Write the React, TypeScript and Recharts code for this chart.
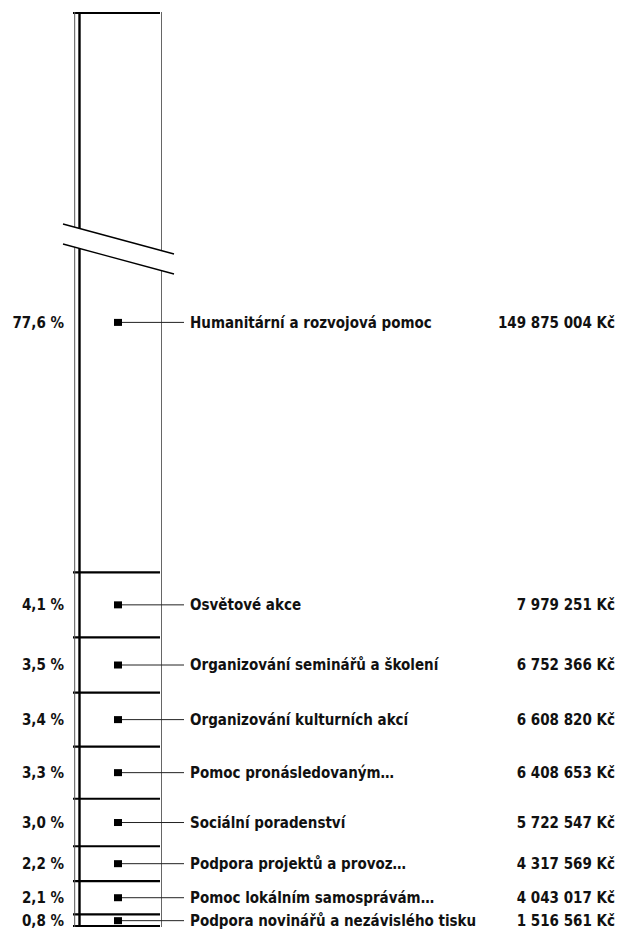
import React from 'react'
import { BarChart, Bar, XAxis, YAxis, LabelList } from 'recharts'

// segments listed bottom -> top (stack order)
const categories = [
  'Podpora novinářů a nezávislého tisku',
  'Pomoc lokálním samosprávám…',
  'Podpora projektů a provoz…',
  'Sociální poradenství',
  'Pomoc pronásledovaným…',
  'Organizování kulturních akcí',
  'Organizování seminářů a školení',
  'Osvětové akce',
  'Humanitární a rozvojová pomoc',
]
const percents = [0.8, 2.1, 2.2, 3.0, 3.3, 3.4, 3.5, 4.1, 77.6]
const amounts = [
  '1 516 561 Kč',
  '4 043 017 Kč',
  '4 317 569 Kč',
  '5 722 547 Kč',
  '6 408 653 Kč',
  '6 608 820 Kč',
  '6 752 366 Kč',
  '7 979 251 Kč',
  '149 875 004 Kč',
]

// visible part of the axis, the big segment is cut off (axis break)
const yDomainMax = 57.8

const W = 618
const H = 929
const TOP = 12
const BOTTOM = 927
const LAST = percents.length - 1

const FONT = '"DejaVu Sans Condensed", "DejaVu Sans", sans-serif'

const row: Record<string, number | string> = { name: 'all' }
percents.forEach((v, i) => { row['s' + i] = v })
const chartData = [row]

const fmtPct = (v: number) => v.toFixed(1).replace('.', ',') + ' %'

function makeShape(i: number) {
  return (props: any) => {
    const x = Number(props.x)
    const y = Number(props.y)
    const width = Number(props.width)
    const height = Number(props.height)
    if (i === LAST) {
      const top = props.background?.y ?? TOP
      const bottom = props.background ? props.background.y + props.background.height : BOTTOM
      const bx0 = x - 10
      const bx1 = x + 101
      const b1 = top + 212
      const b2 = top + 232
      return (
        <g>
          <line x1={x} x2={x + width} y1={top + 1} y2={top + 1} stroke="#000" strokeWidth={2} />
          {/* frame */}
          <line x1={x + 1.7} x2={x + 1.7} y1={top} y2={bottom + 2} stroke="#555" strokeWidth={1} />
          <line x1={x + 6.5} x2={x + 6.5} y1={top} y2={bottom + 2} stroke="#000" strokeWidth={2.4} />
          <line x1={x + 88.5} x2={x + 88.5} y1={top} y2={bottom + 2} stroke="#666" strokeWidth={1} />
          {/* axis break */}
          <polygon points={`${bx0},${b1} ${bx1},${b1 + 30} ${bx1},${b2 + 30} ${bx0},${b2}`} fill="#fff" />
          <line x1={bx0} y1={b1} x2={bx1} y2={b1 + 30} stroke="#000" strokeWidth={1.3} />
          <line x1={bx0} y1={b2} x2={bx1} y2={b2 + 30} stroke="#000" strokeWidth={1.3} />
        </g>
      )
    }
    return (
      <g>
        <line x1={x} x2={x + width} y1={y} y2={y} stroke="#000" strokeWidth={2.2} />
        {i === 0 && (
          <line x1={x} x2={x + width} y1={y + height - 1} y2={y + height - 1} stroke="#000" strokeWidth={2.2} />
        )}
      </g>
    )
  }
}

function makeLabel(i: number) {
  return (p: any) => {
    const vb = p.viewBox ?? p
    const bx = Number(vb.x)
    const by = Number(vb.y)
    const bh = Number(vb.height)
    const cy = i === LAST ? by + bh - 250 : by + bh / 2
    const txt = { fontFamily: FONT, fontWeight: 700, fontSize: 15, fill: '#111' }
    return (
      <g>
        <text x={64} y={cy} dy="0.36em" textAnchor="end" {...txt}>{fmtPct(percents[i])}</text>
        <rect x={bx + 41} y={cy - 3.5} width={8} height={7} fill="#000" />
        <line x1={bx + 49} x2={184} y1={cy} y2={cy} stroke="#222" strokeWidth={1} />
        <text x={190} y={cy} dy="0.36em" textAnchor="start" {...txt}>{categories[i]}</text>
        <text x={615} y={cy} dy="0.36em" textAnchor="end" {...txt}>{amounts[i]}</text>
      </g>
    )
  }
}

export default function App() {
  return (
    <div style={{ position: 'absolute', left: 0, top: 0, width: W, height: H, background: '#fff' }}>
      <BarChart
        width={W}
        height={H}
        data={chartData}
        margin={{ top: TOP, bottom: H - BOTTOM, left: 56, right: W - 176 }}
      >
        <XAxis dataKey="name" type="category" hide />
        <YAxis type="number" domain={[0, yDomainMax]} allowDataOverflow hide />
        {percents.map((_, i) => (
          <Bar
            key={i}
            dataKey={'s' + i}
            stackId="a"
            barSize={87}
            isAnimationActive={false}
            shape={makeShape(i)}
          >
            <LabelList dataKey={'s' + i} content={makeLabel(i)} />
          </Bar>
        ))}
      </BarChart>
    </div>
  )
}
